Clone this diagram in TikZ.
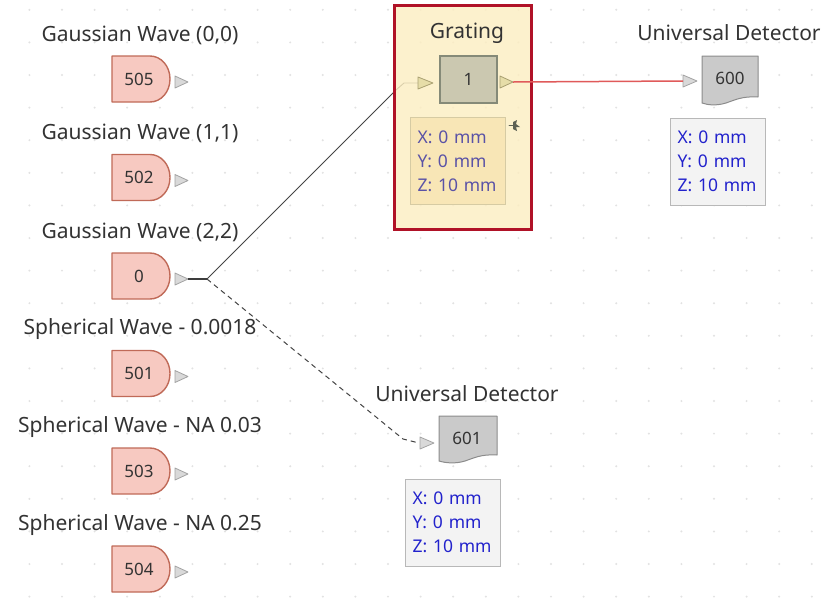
\documentclass[tikz,border=0pt]{standalone}
\usepackage{fontspec}
\setmainfont{Noto Sans}
\definecolor{txt}{HTML}{333333}
\definecolor{dotc}{HTML}{E2E2E2}
\definecolor{srcfill}{HTML}{F7C9C1}
\definecolor{srcdraw}{HTML}{C06A58}
\definecolor{portfill}{HTML}{D9D9D9}
\definecolor{portdraw}{HTML}{A3A3A3}
\definecolor{grfill}{HTML}{FCEEC2}
\definecolor{grborder}{HTML}{B01227}
\definecolor{gsqfill}{HTML}{CBC8B0}
\definecolor{gsqdraw}{HTML}{858A78}
\definecolor{gportfill}{HTML}{E6DDA8}
\definecolor{gportdraw}{HTML}{A89F70}
\definecolor{gposfill}{HTML}{F8E6B6}
\definecolor{gposdraw}{HTML}{D6CBA3}
\definecolor{gpostxt}{HTML}{5A52A6}
\definecolor{detfill}{HTML}{CACACA}
\definecolor{detdraw}{HTML}{8C8C8C}
\definecolor{posfill}{HTML}{F3F3F3}
\definecolor{posdraw}{HTML}{B8B8B8}
\definecolor{postxt}{HTML}{2222CC}
\definecolor{redline}{HTML}{E05A5A}
\definecolor{conn}{HTML}{444444}
\begin{document}
\begin{tikzpicture}[x=1pt,y=-1pt,
  lbl/.style={font=\fontsize{21}{24}\selectfont, text=txt, inner sep=0pt},
  num/.style={font=\fontsize{17}{20}\selectfont, text=txt, inner sep=0pt},
  srcshape/.style={draw=srcdraw, fill=srcfill, line width=1.4pt, line join=round},
  portshape/.style={draw=portdraw, fill=portfill, line width=0.8pt, line join=round},
  gportshape/.style={draw=gportdraw, fill=gportfill, line width=0.8pt, line join=round},
  detshape/.style={draw=detdraw, fill=detfill, line width=1pt, line join=round},
  posbox/.style={draw=posdraw, fill=posfill, line width=0.8pt, minimum width=95pt, minimum height=87pt,
    align=left, text width=80pt, inner sep=0pt, font=\fontsize{17.5}{24}\selectfont, text=postxt},
  gposbox/.style={posbox, draw=gposdraw, fill=gposfill, text=gpostxt},
  connline/.style={draw=conn, line width=0.9pt},
  dashline/.style={draw=conn, line width=1pt, dash pattern=on 5pt off 4pt}]
\useasboundingbox (0,0) rectangle (825,598);
\fill[white] (0,0) rectangle (825,598);
% dot grid
\foreach \i in {0,...,24}{\foreach \j in {0,...,18}{
  \fill[dotc] ({29.4+32.6*\i},{9.8+32.6*\j}) circle (1.1);}}

% source nodes: name, y centre, label, number
\newcommand\srcnode[4]{%
  \draw[srcshape] (112,#2-23) -- (150,#2-23) .. controls (161,#2-23) and (170,#2-13) .. (170,#2)
     .. controls (170,#2+13) and (161,#2+23) .. (150,#2+23) -- (112,#2+23) -- cycle;
  \node[num] (#1) at (139,#2) {#4};
  \node[lbl] (#1-lbl) at (140,#2-44) {#3};
  \draw[portshape] (175,#2-3) -- (188,#2+3) -- (175,#2+9) -- cycle;
  \coordinate (#1-out) at (188,#2+3);
}
\srcnode{s505}{79}{Gaussian Wave (0,0)}{505}
\srcnode{s502}{177.5}{Gaussian Wave (1,1)}{502}
\srcnode{s0}{276}{Gaussian Wave (2,2)}{0}
\srcnode{s501}{373.5}{Spherical Wave - 0.0018}{501}
\srcnode{s503}{471}{Spherical Wave - NA 0.03}{503}
\srcnode{s504}{569}{Spherical Wave - NA 0.25}{504}

% connectors from source 0
\coordinate (j0) at (207,279);
\coordinate (b1) at (396,90);
\coordinate (b2) at (404,83);
\coordinate (b3) at (403,439);
\draw[connline] (j0) -- (b1) -- (b2) -- (418,83);
\draw[dashline] (j0) -- (b3) -- (419,443);
\draw[draw=conn!90!black, line width=2.4pt] (s0-out) -- (j0);

% grating group
\node[fill=grfill, fill opacity=0.82, draw=none, minimum width=138pt, minimum height=225pt, inner sep=0pt] (ggroup) at (463,117.5) {};
\draw[grborder, line width=2.6pt] (394.5,5.5) rectangle (531.5,229.5);
\node[lbl] (glbl) at (467,33) {Grating};
\draw[gportshape] (418,77) -- (433,83) -- (418,89) -- cycle;
\coordinate (g-in) at (418,83);
\node[draw=gsqdraw, fill=gsqfill, line width=1.2pt, minimum width=57pt, minimum height=47pt, inner sep=0pt, num] (g1) at (468.5,79.5) {1};
\draw[gportshape] (500,76) -- (513,82) -- (500,88) -- cycle;
\coordinate (g-out) at (513,82);
\node[gposbox] (gpos) at (457.5,161) {X: 0 mm\\Y: 0 mm\\Z: 10 mm};
% pin icon
\draw[gsqdraw!70!black, line width=1pt, line cap=round] (509,125.5) -- (513,125.5);
\fill[gsqdraw!70!black] (513,122) -- (517,120) -- (516,124) -- (520,127) -- (516,127) -- (517,131) -- (513,129) -- cycle;

% detector 600
\node[lbl] (d600-lbl) at (729,33) {Universal Detector};
\draw[detshape] (702,56) -- (758,56) -- (758,97)
   .. controls (742,96) and (735,100) .. (726,103)
   .. controls (716,106) and (708,105) .. (702,103) -- cycle;
\node[num] (d600) at (730,78) {600};
\draw[portshape] (683,75) -- (697,81) -- (683,87) -- cycle;
\coordinate (d600-in) at (683,81);
\draw[redline, line width=1.5pt] (g-out) -- (d600-in);
\node[posbox] (d600-pos) at (717.5,161.5) {X: 0 mm\\Y: 0 mm\\Z: 10 mm};

% detector 601
\node[lbl] (d601-lbl) at (467,394) {Universal Detector};
\draw[detshape] (439,416) -- (497,416) -- (497,455)
   .. controls (481,454) and (474,458) .. (465,461)
   .. controls (455,464) and (446,463) .. (439,461) -- cycle;
\node[num] (d601) at (467,438) {601};
\draw[portshape] (420,437) -- (434,443) -- (420,449) -- cycle;
\coordinate (d601-in) at (420,443);
\node[posbox] (d601-pos) at (452.5,522.5) {X: 0 mm\\Y: 0 mm\\Z: 10 mm};
\end{tikzpicture}
\end{document}
